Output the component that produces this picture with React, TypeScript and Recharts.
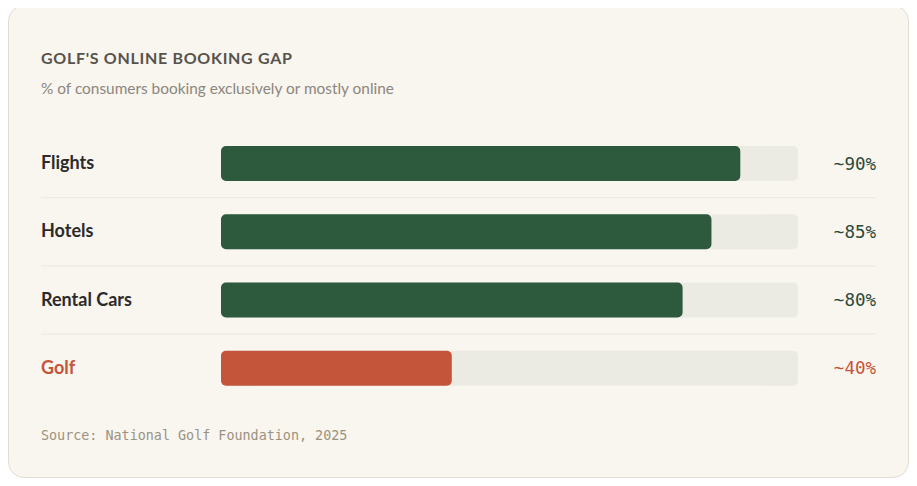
import { BarChart, Bar, XAxis, YAxis, LabelList, Cell } from 'recharts'

const categories = ['Flights', 'Hotels', 'Rental Cars', 'Golf']
const shares = [90, 85, 80, 40]
const valueLabels = ['~90%', '~85%', '~80%', '~40%']

const GREEN = '#2d5a3d'
const RUST = '#c4553b'
const TRACK = '#ecebe3'
const SANS = 'Lato, "Noto Sans", sans-serif'
const MONO = '"DejaVu Sans Mono", "Liberation Mono", monospace'

const CHART_W = 899
const CHART_H = 273
const MARGIN = { top: 0, right: 110, left: 32, bottom: 0 }
const AXIS_W = 180

const data = categories.map((name, i) => ({
  name,
  share: shares[i],
  label: valueLabels[i],
  highlight: name === 'Golf',
}))

function CategoryTick({ x, y, payload }: { x?: number; y?: number; payload?: { value: string } }) {
  const isGolf = payload?.value === 'Golf'
  return (
    <text
      x={(x ?? 0) - AXIS_W}
      y={y}
      dy={6}
      textAnchor="start"
      fontFamily={SANS}
      fontSize={18}
      fontWeight={700}
      fill={isGolf ? RUST : '#2b2b2b'}
    >
      {payload?.value}
    </text>
  )
}

function Track(props: any) {
  const { x, y, width, height, index } = props
  const gap = (CHART_H / categories.length - height) / 2
  const lineY = y + height + gap
  return (
    <g>
      <rect x={x} y={y} width={width} height={height} rx={5} ry={5} fill={TRACK} />
      {index < categories.length - 1 && (
        <line
          x1={x - AXIS_W}
          x2={x + width + 78}
          y1={lineY}
          y2={lineY}
          stroke="#ece7df"
          strokeWidth={1}
        />
      )}
    </g>
  )
}

function ValueLabel(props: any) {
  const { y, height, index } = props
  const d = data[index]
  return (
    <text
      x={CHART_W - MARGIN.right + 78}
      y={y + height / 2}
      dy={6}
      textAnchor="end"
      fontFamily={MONO}
      fontSize={17.5}
      fill={d.highlight ? RUST : '#2b4a3b'}
    >
      {d.label}
    </text>
  )
}

export default function App() {
  return (
    <div
      style={{
        position: 'relative',
        boxSizing: 'border-box',
        width: 901,
        height: 473,
        marginTop: -3,
        background: '#f9f5ef',
        border: '1px solid #e2ddd3',
        borderRadius: 16,
        fontFamily: SANS,
      }}
    >
      <div
        style={{
          position: 'absolute',
          left: 32,
          top: 42,
          fontSize: 16,
          fontWeight: 700,
          letterSpacing: 0.7,
          color: '#57534c',
        }}
      >
        GOLF'S ONLINE BOOKING GAP
      </div>
      <div style={{ position: 'absolute', left: 32, top: 73, fontSize: 15.4, color: '#8c877e' }}>
        % of consumers booking exclusively or mostly online
      </div>
      <div style={{ position: 'absolute', left: 0, top: 123 }}>
        <BarChart width={CHART_W} height={CHART_H} data={data} layout="vertical" margin={MARGIN}>
          <XAxis type="number" domain={[0, 100]} hide />
          <YAxis
            type="category"
            dataKey="name"
            width={AXIS_W}
            axisLine={false}
            tickLine={false}
            tickSize={0}
            tickMargin={0}
            tick={<CategoryTick />}
          />
          <Bar
            dataKey="share"
            barSize={35}
            radius={5}
            background={<Track />}
            isAnimationActive={false}
          >
            {data.map(d => (
              <Cell key={d.name} fill={d.highlight ? RUST : GREEN} />
            ))}
            <LabelList dataKey="label" content={<ValueLabel />} />
          </Bar>
        </BarChart>
      </div>
      <div
        style={{
          position: 'absolute',
          left: 32,
          top: 422,
          fontFamily: MONO,
          fontSize: 13.4,
          color: '#9a9282',
        }}
      >
        Source: National Golf Foundation, 2025
      </div>
    </div>
  )
}
